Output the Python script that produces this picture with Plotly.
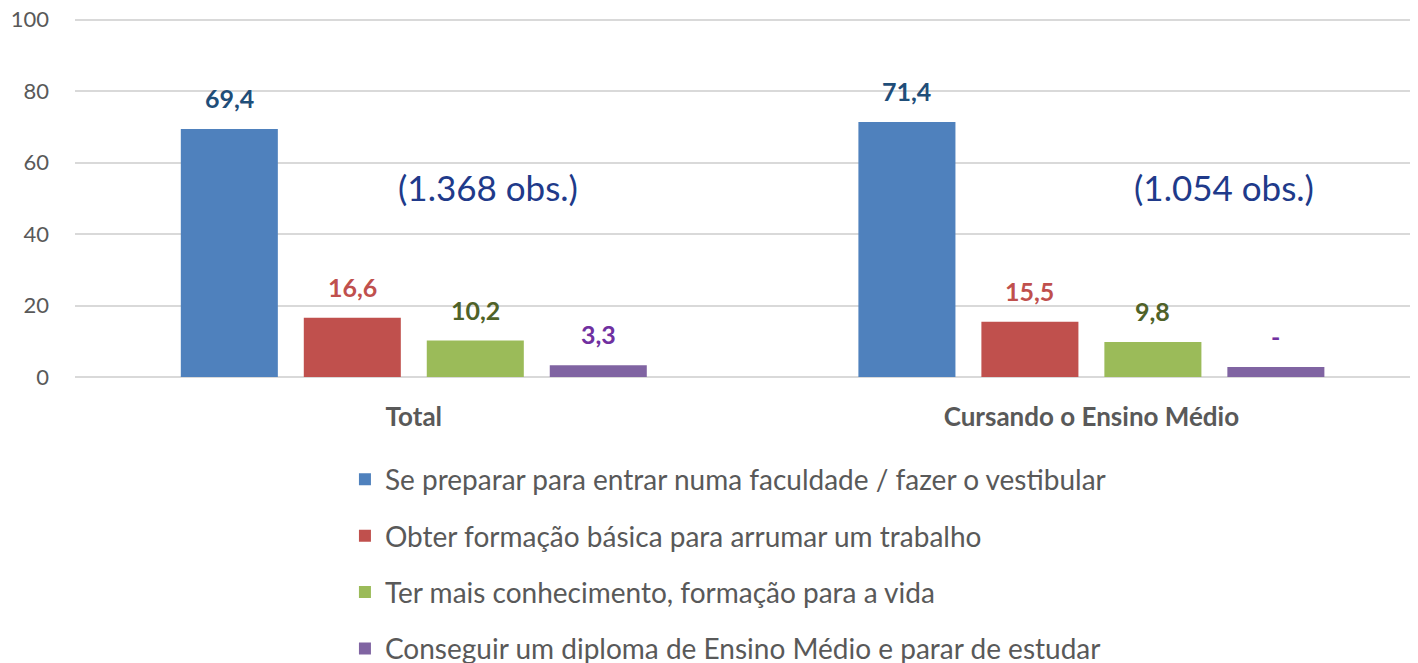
import plotly.graph_objects as go

categories = ["Total", "Cursando o Ensino Médio"]
series_names = [
    "Se preparar para entrar numa faculdade / fazer o vestibular",
    "Obter formação básica para arrumar um trabalho",
    "Ter mais conhecimento, formação para a vida",
    "Conseguir um diploma de Ensino Médio e parar de estudar",
]
preparar = [69.4, 71.4]
formacao_trabalho = [16.6, 15.5]
conhecimento = [10.2, 9.8]
diploma = [3.3, 2.8]
diploma_labels = ["3,3", "-"]
obs_labels = ["(1.368 obs.)", "(1.054 obs.)"]
y_ticks = [0, 20, 40, 60, 80, 100]

bar_colors = ["#4F81BD", "#C0504D", "#9BBB59", "#8064A2"]
label_colors = ["#1F4E79", "#C0504D", "#4F6228", "#7030A0"]

def fmt(vals):
    return [f"{v:.1f}".replace(".", ",") for v in vals]

series_values = [preparar, formacao_trabalho, conhecimento, diploma]
series_text = [fmt(preparar), fmt(formacao_trabalho), fmt(conhecimento), diploma_labels]

FONT = "Lato, Open Sans, sans-serif"
BARGAP = 0.274
GROUPGAP = 0.211
n_series = len(series_names)
slot = (1 - BARGAP) / n_series

fig = go.Figure()
for i, (name, vals, txt) in enumerate(zip(series_names, series_values, series_text)):
    fig.add_trace(go.Bar(
        x=categories, y=vals, name=name,
        marker=dict(color=bar_colors[i], line=dict(width=0)),
        legendgroup=f"g{i}",
    ))
    for c, (v, t) in enumerate(zip(vals, txt)):
        fig.add_annotation(x=c + (i - (n_series - 1) / 2) * slot, y=v, xref="x", yref="y",
                           text=t, showarrow=False, yanchor="middle", yshift=31,
                           font=dict(family=FONT, size=25, color=label_colors[i], weight="bold"))

obs_x = [0.109, 1.196]
for xv, lab in zip(obs_x, obs_labels):
    fig.add_annotation(x=xv, y=53.2, xref="x", yref="y", text=lab,
                       showarrow=False,
                       font=dict(family=FONT, size=35, color="#203A8A"))

fig.update_layout(
    width=1418, height=663,
    paper_bgcolor="white", plot_bgcolor="white",
    margin=dict(l=67, r=8, t=10, b=294, autoexpand=False),
    barmode="group", bargap=BARGAP, bargroupgap=GROUPGAP,
    font=dict(family=FONT, color="#595959"),
    showlegend=True,
    legend=dict(orientation="v", x=0.201, xanchor="left", y=-0.216, yanchor="top",
                font=dict(family=FONT, size=28, color="#595959"),
                tracegroupgap=17, itemwidth=30),
)
fig.update_yaxes(range=[0, 100.5], tickvals=y_ticks, showgrid=True, gridcolor="#D9D9D9",
                 gridwidth=1.5, zeroline=True, zerolinecolor="#D9D9D9", zerolinewidth=1.5,
                 tickfont=dict(family=FONT, size=22, color="#595959"),
                 ticks="", showline=False, ticklabelstandoff=25, automargin=False,
                 ticklabeloverflow="allow")
fig.update_xaxes(range=[-0.5, 1.482],
                 tickfont=dict(family=FONT, size=26, color="#595959", weight="bold"),
                 showline=False, ticks="", ticklabelstandoff=22, automargin=False)

fig.write_html("out.html")
